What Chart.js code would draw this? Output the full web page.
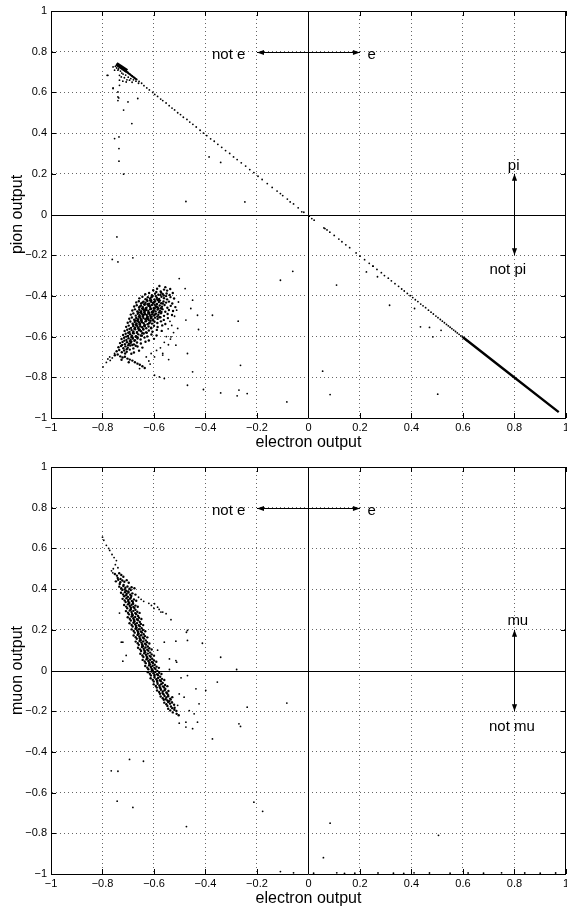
<!DOCTYPE html>
<html><head><meta charset="utf-8">
<script src="https://cdn.jsdelivr.net/npm/chart.js@4.4.1/dist/chart.umd.min.js"></script>
<style>
html,body{margin:0;padding:0;background:#fff;overflow:hidden;width:567px;height:908px}
#wrap{position:relative;width:567px;height:908px;overflow:hidden;background:#fff}
canvas{position:absolute;left:0}
#c1{top:0}
#c2{top:456px}
</style></head><body>
<div id="wrap"><canvas id="c1" width="572" height="454" style="width:572px;height:454px"></canvas><canvas id="c2" width="572" height="452" style="width:572px;height:452px"></canvas></div>
<script>
// ---------- DATA ----------
const tickValues = [-1,-0.8,-0.6,-0.4,-0.2,0,0.2,0.4,0.6,0.8,1];
const xLabel = 'electron output';
const yLabelTop = 'pion output';
const yLabelBottom = 'muon output';

// top panel: pion output vs electron output
const topDiagonal = [[-0.735,0.728],[-0.726,0.722],[-0.718,0.714],[-0.71,0.707],[-0.702,0.699],[-0.694,0.69],[-0.685,0.681],[-0.676,0.672],[-0.667,0.664],[-0.658,0.654],[-0.648,0.645],[-0.639,0.633],[-0.628,0.622],[-0.618,0.612],[-0.605,0.6],[-0.597,0.59],[-0.586,0.58],[-0.574,0.567],[-0.566,0.56],[-0.553,0.548],[-0.541,0.535],[-0.53,0.523],[-0.52,0.514],[-0.508,0.5],[-0.497,0.491],[-0.486,0.478],[-0.472,0.467],[-0.461,0.454],[-0.449,0.443],[-0.436,0.43],[-0.421,0.414],[-0.408,0.4],[-0.395,0.388],[-0.38,0.372],[-0.366,0.36],[-0.352,0.345],[-0.337,0.33],[-0.322,0.314],[-0.306,0.3],[-0.291,0.283],[-0.277,0.27],[-0.261,0.254],[-0.244,0.238],[-0.228,0.221],[-0.212,0.206],[-0.196,0.188],[-0.18,0.172],[-0.16,0.152],[-0.141,0.133],[-0.122,0.115],[-0.1,0.093],[-0.082,0.076],[-0.058,0.052],[-0.04,0.033],[-0.018,0.011],[0.003,-0.008],[0.022,-0.028],[0.06,-0.066],[0.072,-0.076],[0.083,-0.087],[0.1,-0.103],[0.118,-0.121],[0.13,-0.134],[0.145,-0.149],[0.16,-0.163],[0.185,-0.189],[0.2,-0.205],[0.218,-0.222],[0.236,-0.24],[0.25,-0.254],[0.266,-0.27],[0.283,-0.286],[0.295,-0.3],[0.31,-0.313],[0.322,-0.326],[0.336,-0.34],[0.35,-0.353],[0.362,-0.366],[0.372,-0.376],[0.384,-0.388],[0.395,-0.399],[0.405,-0.408],[0.415,-0.419],[0.425,-0.428],[0.436,-0.44],[0.445,-0.449],[0.455,-0.458],[0.466,-0.47],[0.476,-0.48],[0.485,-0.489],[0.495,-0.499],[0.503,-0.507],[0.512,-0.516],[0.52,-0.524],[0.528,-0.532],[0.536,-0.54],[0.543,-0.547],[0.55,-0.554],[0.557,-0.561],[0.564,-0.568],[0.571,-0.575],[0.578,-0.582],[0.585,-0.589],[0.592,-0.596],[0.598,-0.602],[0.605,-0.609],[0.611,-0.615],[0.618,-0.622]];
const topDenseTail = [[0.6,-0.603],[0.75,-0.752],[0.972,-0.971]];
const topWedgeThick = [[-0.746,0.74],[-0.705,0.705]];
const topWedgeThin = [[-0.746,0.74],[-0.668,0.663]];
const topCluster = [
[-0.603,-0.372],[-0.588,-0.365],[-0.574,-0.378],[-0.561,-0.369],[-0.549,-0.374],[-0.537,-0.366],[-0.579,-0.351],[-0.556,-0.357],
[-0.634,-0.392],[-0.619,-0.386],[-0.608,-0.397],[-0.596,-0.389],[-0.583,-0.394],[-0.572,-0.384],[-0.562,-0.398],[-0.551,-0.388],[-0.539,-0.395],[-0.527,-0.386],[-0.591,-0.381],[-0.566,-0.391],
[-0.657,-0.412],[-0.645,-0.404],[-0.633,-0.416],[-0.624,-0.407],[-0.615,-0.413],[-0.606,-0.402],[-0.598,-0.418],[-0.589,-0.409],[-0.58,-0.415],[-0.571,-0.404],[-0.561,-0.411],[-0.549,-0.417],[-0.536,-0.406],[-0.522,-0.413],[-0.611,-0.421],[-0.593,-0.401],[-0.577,-0.423],[-0.553,-0.401],
[-0.669,-0.432],[-0.659,-0.426],[-0.65,-0.437],[-0.641,-0.428],[-0.633,-0.434],[-0.626,-0.425],[-0.619,-0.438],[-0.611,-0.429],[-0.604,-0.435],[-0.596,-0.426],[-0.589,-0.439],[-0.581,-0.43],[-0.572,-0.436],[-0.563,-0.427],[-0.553,-0.433],[-0.542,-0.428],[-0.529,-0.437],[-0.638,-0.441],[-0.616,-0.422],[-0.598,-0.443],[-0.584,-0.421],
[-0.677,-0.452],[-0.667,-0.446],[-0.658,-0.457],[-0.65,-0.448],[-0.643,-0.455],[-0.636,-0.444],[-0.629,-0.458],[-0.622,-0.449],[-0.615,-0.454],[-0.608,-0.445],[-0.601,-0.459],[-0.594,-0.45],[-0.586,-0.456],[-0.578,-0.447],[-0.569,-0.453],[-0.559,-0.445],[-0.548,-0.458],[-0.535,-0.449],[-0.517,-0.455],[-0.646,-0.462],[-0.625,-0.441],[-0.611,-0.463],[-0.589,-0.442],[-0.573,-0.461],
[-0.684,-0.472],[-0.674,-0.466],[-0.665,-0.477],[-0.657,-0.468],[-0.65,-0.475],[-0.643,-0.464],[-0.636,-0.478],[-0.629,-0.469],[-0.622,-0.474],[-0.615,-0.465],[-0.608,-0.479],[-0.601,-0.47],[-0.594,-0.476],[-0.586,-0.467],[-0.577,-0.473],[-0.567,-0.465],[-0.556,-0.478],[-0.542,-0.469],[-0.526,-0.474],[-0.653,-0.482],[-0.632,-0.461],[-0.618,-0.483],[-0.597,-0.462],[-0.581,-0.481],[-0.639,-0.471],
[-0.69,-0.492],[-0.68,-0.486],[-0.671,-0.497],[-0.663,-0.488],[-0.656,-0.495],[-0.649,-0.484],[-0.642,-0.498],[-0.635,-0.489],[-0.628,-0.494],[-0.621,-0.485],[-0.614,-0.499],[-0.607,-0.49],[-0.6,-0.496],[-0.592,-0.487],[-0.583,-0.493],[-0.573,-0.485],[-0.561,-0.498],[-0.547,-0.489],[-0.53,-0.494],[-0.659,-0.502],[-0.638,-0.481],[-0.624,-0.503],[-0.603,-0.482],[-0.587,-0.501],[-0.645,-0.491],[-0.617,-0.492],
[-0.696,-0.512],[-0.686,-0.506],[-0.677,-0.517],[-0.669,-0.508],[-0.662,-0.515],[-0.655,-0.504],[-0.648,-0.518],[-0.641,-0.509],[-0.634,-0.514],[-0.627,-0.505],[-0.62,-0.519],[-0.612,-0.51],[-0.604,-0.516],[-0.596,-0.507],[-0.586,-0.513],[-0.575,-0.505],[-0.562,-0.518],[-0.546,-0.509],[-0.665,-0.522],[-0.644,-0.501],[-0.63,-0.523],[-0.609,-0.502],[-0.652,-0.511],[-0.623,-0.512],
[-0.702,-0.532],[-0.692,-0.526],[-0.683,-0.537],[-0.675,-0.528],[-0.668,-0.535],[-0.661,-0.524],[-0.654,-0.538],[-0.647,-0.529],[-0.64,-0.534],[-0.633,-0.525],[-0.625,-0.539],[-0.617,-0.53],[-0.608,-0.536],[-0.598,-0.527],[-0.587,-0.533],[-0.573,-0.525],[-0.556,-0.538],[-0.67,-0.542],[-0.65,-0.521],[-0.636,-0.543],[-0.613,-0.522],[-0.658,-0.531],
[-0.708,-0.552],[-0.698,-0.546],[-0.689,-0.557],[-0.681,-0.548],[-0.674,-0.555],[-0.667,-0.544],[-0.66,-0.558],[-0.653,-0.549],[-0.646,-0.554],[-0.638,-0.545],[-0.63,-0.559],[-0.621,-0.55],[-0.611,-0.556],[-0.6,-0.547],[-0.586,-0.553],[-0.568,-0.545],[-0.676,-0.562],[-0.656,-0.541],[-0.642,-0.563],[-0.664,-0.551],
[-0.714,-0.572],[-0.704,-0.566],[-0.695,-0.577],[-0.687,-0.568],[-0.68,-0.575],[-0.673,-0.564],[-0.666,-0.578],[-0.658,-0.569],[-0.65,-0.574],[-0.641,-0.565],[-0.631,-0.579],[-0.62,-0.57],[-0.606,-0.576],[-0.589,-0.567],[-0.682,-0.582],[-0.661,-0.561],[-0.645,-0.583],[-0.57,-0.572],
[-0.72,-0.592],[-0.71,-0.586],[-0.701,-0.597],[-0.693,-0.588],[-0.686,-0.595],[-0.678,-0.584],[-0.67,-0.598],[-0.661,-0.589],[-0.651,-0.594],[-0.64,-0.585],[-0.626,-0.599],[-0.61,-0.59],[-0.688,-0.602],[-0.666,-0.581],[-0.59,-0.594],
[-0.726,-0.612],[-0.716,-0.606],[-0.707,-0.617],[-0.699,-0.608],[-0.691,-0.615],[-0.683,-0.604],[-0.674,-0.618],[-0.664,-0.609],[-0.652,-0.614],[-0.637,-0.605],[-0.62,-0.619],[-0.694,-0.622],[-0.671,-0.601],[-0.6,-0.611],
[-0.732,-0.632],[-0.722,-0.626],[-0.713,-0.637],[-0.705,-0.628],[-0.697,-0.635],[-0.688,-0.624],[-0.678,-0.638],[-0.666,-0.629],[-0.651,-0.634],[-0.633,-0.625],[-0.7,-0.642],[-0.676,-0.621],
[-0.738,-0.652],[-0.728,-0.646],[-0.719,-0.657],[-0.711,-0.648],[-0.702,-0.655],[-0.692,-0.644],[-0.68,-0.658],[-0.664,-0.649],[-0.645,-0.654],[-0.706,-0.662],[-0.684,-0.641],
[-0.745,-0.672],[-0.735,-0.666],[-0.725,-0.677],[-0.716,-0.668],[-0.706,-0.675],[-0.694,-0.664],[-0.678,-0.678],[-0.658,-0.669],[-0.712,-0.683],[-0.688,-0.684],
[-0.752,-0.692],[-0.741,-0.688],[-0.731,-0.697],[-0.722,-0.703],[-0.713,-0.699],[-0.703,-0.708],[-0.694,-0.713],[-0.684,-0.718],[-0.674,-0.726],[-0.664,-0.733],[-0.655,-0.738],[-0.645,-0.746],[-0.636,-0.754],[-0.726,-0.714],[-0.698,-0.726],
[-0.628,-0.419],[-0.6,-0.431],[-0.617,-0.447],[-0.591,-0.455],[-0.634,-0.468],[-0.605,-0.476],[-0.622,-0.482],[-0.596,-0.491],[-0.641,-0.494],[-0.612,-0.506],[-0.627,-0.512],[-0.603,-0.521],[-0.648,-0.527],[-0.619,-0.535],[-0.636,-0.549],[-0.611,-0.559],[-0.655,-0.566],[-0.628,-0.581],[-0.647,-0.596],[-0.664,-0.603],[-0.682,-0.61],[-0.69,-0.63],[-0.671,-0.645],[-0.583,-0.462],[-0.571,-0.479],[-0.579,-0.505],[-0.566,-0.437],[-0.587,-0.418],[-0.61,-0.407],[-0.575,-0.395],[-0.66,-0.481],[-0.672,-0.521],[-0.68,-0.541],[-0.695,-0.562],[-0.7,-0.581],[-0.708,-0.6],[-0.715,-0.62],[-0.724,-0.641],[-0.655,-0.452],[-0.645,-0.433]];
const topClusterEdge = [
[-0.77,-0.717],[-0.779,-0.71],[-0.762,-0.705],[-0.798,-0.749],[-0.772,-0.7],[-0.753,-0.683],[-0.785,-0.727],
[-0.538,-0.525],[-0.531,-0.545],[-0.545,-0.562],[-0.524,-0.58],[-0.552,-0.6],[-0.536,-0.612],[-0.56,-0.628],[-0.544,-0.64],[-0.575,-0.655],[-0.59,-0.668],[-0.566,-0.682],[-0.611,-0.683],[-0.598,-0.7],[-0.543,-0.713],[-0.566,-0.691],[-0.515,-0.642],[-0.534,-0.601],[-0.508,-0.56],[-0.512,-0.47],[-0.505,-0.43],[-0.52,-0.5],[-0.598,-0.79],[-0.579,-0.798],[-0.56,-0.806],[-0.656,-0.757],[-0.62,-0.72],[-0.63,-0.7],[-0.615,-0.735]];
const topSparse = [[-0.782,0.684],[-0.759,0.619],[-0.74,0.578],[-0.74,0.56],[-0.701,0.553],[-0.663,0.57],[-0.718,0.513],[-0.686,0.447],[-0.753,0.373],[-0.736,0.381],[-0.736,0.324],[-0.736,0.262],[-0.718,0.198],[-0.476,0.064],[-0.247,0.062],[-0.071,0.062],[-0.386,0.283],[-0.341,0.256],[-0.109,0.103],[-0.026,0.013],[0.013,-0.02],[0.064,-0.069],
[-0.759,0.725],[-0.753,0.709],[-0.74,0.709],[-0.734,0.684],[-0.727,0.676],[-0.734,0.66],[-0.721,0.655],[-0.708,0.651],[-0.695,0.66],[-0.734,0.635],[-0.74,0.602],[-0.737,0.573],[-0.759,0.622],[-0.779,0.684],[-0.72,0.69],[-0.71,0.685],[-0.7,0.675],[-0.69,0.668],[-0.715,0.672],[-0.705,0.662],[-0.725,0.695],[-0.73,0.705],[-0.745,0.72],[-0.75,0.728],[-0.738,0.715],[-0.68,0.662],[-0.67,0.655],[-0.685,0.65],[-0.66,0.645],
[-0.744,-0.11],[-0.762,-0.221],[-0.74,-0.233],[-0.682,-0.213],[-0.502,-0.315],[-0.479,-0.364],[-0.45,-0.421],[-0.457,-0.462],[-0.431,-0.495],[-0.373,-0.495],[-0.427,-0.565],[-0.476,-0.519],[-0.47,-0.683],[-0.45,-0.773],[-0.47,-0.839],[-0.408,-0.86],[-0.341,-0.877],[-0.27,-0.863],[-0.238,-0.88],[-0.277,-0.891],[-0.264,-0.741],[-0.273,-0.524],[-0.109,-0.323],[-0.061,-0.279],[-0.084,-0.921],
[0.109,-0.347],[0.315,-0.446],[0.435,-0.552],[0.47,-0.555],[0.515,-0.569],[0.483,-0.601],[0.412,-0.462],[0.055,-0.77],[0.084,-0.885],[0.502,-0.883],[0.225,-0.282],[0.251,-0.254],[0.268,-0.306]];

// bottom panel: muon output vs electron output
const bottomBand = [
[-0.752,0.474],[-0.744,0.466],[-0.735,0.478],[-0.727,0.469],[-0.719,0.461],[-0.741,0.455],[-0.73,0.45],
[-0.748,0.438],[-0.739,0.446],[-0.731,0.434],[-0.723,0.442],[-0.715,0.436],[-0.706,0.444],[-0.698,0.431],[-0.733,0.425],[-0.718,0.421],
[-0.735,0.412],[-0.727,0.404],[-0.719,0.415],[-0.711,0.407],[-0.703,0.413],[-0.695,0.402],[-0.687,0.409],[-0.676,0.404],[-0.723,0.396],[-0.708,0.392],[-0.69,0.395],
[-0.728,0.382],[-0.72,0.374],[-0.713,0.385],[-0.706,0.377],[-0.699,0.383],[-0.692,0.372],[-0.684,0.379],[-0.672,0.373],[-0.716,0.365],[-0.701,0.362],[-0.688,0.366],
[-0.722,0.352],[-0.714,0.344],[-0.707,0.355],[-0.7,0.347],[-0.693,0.353],[-0.686,0.342],[-0.678,0.349],[-0.669,0.343],[-0.71,0.336],[-0.696,0.333],[-0.682,0.337],
[-0.716,0.322],[-0.708,0.314],[-0.701,0.325],[-0.694,0.317],[-0.687,0.323],[-0.68,0.312],[-0.672,0.319],[-0.663,0.313],[-0.704,0.306],[-0.69,0.303],[-0.676,0.307],[-0.697,0.329],
[-0.709,0.292],[-0.701,0.284],[-0.694,0.295],[-0.687,0.287],[-0.68,0.293],[-0.673,0.282],[-0.665,0.289],[-0.656,0.283],[-0.697,0.276],[-0.683,0.273],[-0.669,0.277],[-0.69,0.299],
[-0.702,0.262],[-0.694,0.254],[-0.687,0.265],[-0.68,0.257],[-0.673,0.263],[-0.666,0.252],[-0.658,0.259],[-0.649,0.253],[-0.69,0.246],[-0.676,0.243],[-0.662,0.247],[-0.683,0.269],
[-0.695,0.232],[-0.687,0.224],[-0.68,0.235],[-0.673,0.227],[-0.666,0.233],[-0.659,0.222],[-0.651,0.229],[-0.642,0.223],[-0.683,0.216],[-0.669,0.213],[-0.655,0.217],[-0.676,0.239],
[-0.687,0.202],[-0.679,0.194],[-0.672,0.205],[-0.665,0.197],[-0.658,0.203],[-0.651,0.192],[-0.643,0.199],[-0.634,0.193],[-0.675,0.186],[-0.661,0.183],[-0.647,0.187],[-0.668,0.209],
[-0.679,0.172],[-0.671,0.164],[-0.664,0.175],[-0.657,0.167],[-0.65,0.173],[-0.643,0.162],[-0.635,0.169],[-0.626,0.163],[-0.667,0.156],[-0.653,0.153],[-0.639,0.157],[-0.66,0.179],
[-0.671,0.142],[-0.663,0.134],[-0.656,0.145],[-0.649,0.137],[-0.642,0.143],[-0.635,0.132],[-0.627,0.139],[-0.618,0.133],[-0.659,0.126],[-0.645,0.123],[-0.631,0.127],[-0.652,0.149],
[-0.662,0.112],[-0.654,0.104],[-0.647,0.115],[-0.64,0.107],[-0.633,0.113],[-0.626,0.102],[-0.618,0.109],[-0.609,0.103],[-0.65,0.096],[-0.636,0.093],[-0.622,0.097],[-0.643,0.119],
[-0.653,0.082],[-0.645,0.074],[-0.638,0.085],[-0.631,0.077],[-0.624,0.083],[-0.617,0.072],[-0.609,0.079],[-0.6,0.073],[-0.641,0.066],[-0.627,0.063],[-0.613,0.067],[-0.634,0.089],
[-0.644,0.052],[-0.636,0.044],[-0.629,0.055],[-0.622,0.047],[-0.615,0.053],[-0.608,0.042],[-0.6,0.049],[-0.591,0.043],[-0.632,0.036],[-0.618,0.033],[-0.604,0.037],[-0.625,0.059],
[-0.634,0.022],[-0.626,0.014],[-0.619,0.025],[-0.612,0.017],[-0.605,0.023],[-0.598,0.012],[-0.59,0.019],[-0.581,0.013],[-0.622,0.006],[-0.608,0.003],[-0.594,0.007],[-0.615,0.029],
[-0.624,-0.008],[-0.616,-0.016],[-0.609,-0.005],[-0.602,-0.013],[-0.595,-0.007],[-0.588,-0.018],[-0.58,-0.011],[-0.571,-0.017],[-0.612,-0.024],[-0.598,-0.027],[-0.584,-0.023],[-0.605,0.001],
[-0.613,-0.038],[-0.605,-0.046],[-0.598,-0.035],[-0.591,-0.043],[-0.584,-0.037],[-0.577,-0.048],[-0.569,-0.041],[-0.56,-0.047],[-0.601,-0.054],[-0.587,-0.057],[-0.573,-0.053],
[-0.601,-0.068],[-0.593,-0.076],[-0.586,-0.065],[-0.579,-0.073],[-0.572,-0.067],[-0.565,-0.078],[-0.557,-0.071],[-0.548,-0.077],[-0.589,-0.084],[-0.575,-0.087],[-0.561,-0.083],
[-0.588,-0.098],[-0.58,-0.106],[-0.573,-0.095],[-0.566,-0.103],[-0.559,-0.097],[-0.552,-0.108],[-0.544,-0.101],[-0.577,-0.114],[-0.563,-0.117],[-0.549,-0.113],
[-0.574,-0.128],[-0.566,-0.136],[-0.559,-0.125],[-0.552,-0.133],[-0.545,-0.127],[-0.537,-0.138],[-0.529,-0.131],[-0.562,-0.144],[-0.548,-0.147],[-0.535,-0.143],
[-0.56,-0.158],[-0.552,-0.166],[-0.545,-0.155],[-0.538,-0.163],[-0.53,-0.157],[-0.522,-0.168],[-0.548,-0.174],[-0.534,-0.177],[-0.52,-0.183],
[-0.545,-0.188],[-0.537,-0.196],[-0.529,-0.185],[-0.521,-0.193],[-0.513,-0.199],[-0.527,-0.206],[-0.512,-0.213],[-0.504,-0.22],
[-0.69,0.31],[-0.672,0.298],[-0.685,0.278],[-0.662,0.268],[-0.678,0.249],[-0.655,0.238],[-0.67,0.219],[-0.648,0.208],[-0.662,0.189],[-0.64,0.178],[-0.655,0.159],[-0.632,0.148],[-0.646,0.129],[-0.624,0.118],[-0.637,0.099],[-0.615,0.088],[-0.628,0.069],[-0.607,0.058],[-0.618,0.039],[-0.597,0.028],[-0.609,0.009],[-0.587,-0.002],[-0.598,-0.021],[-0.576,-0.031],[-0.588,-0.051],[-0.566,-0.061],[-0.578,-0.081],[-0.556,-0.091],[-0.567,-0.111],[-0.545,-0.121],[-0.555,-0.141],[-0.541,-0.151],[-0.7,0.339],[-0.681,0.328],[-0.708,0.37],[-0.69,0.358],[-0.714,0.398],[-0.7,0.389]];
const bottomTrail = [[-0.8,0.655],[-0.795,0.64],[-0.785,0.615],[-0.776,0.6],[-0.772,0.59],[-0.763,0.57],[-0.755,0.555],[-0.746,0.54],[-0.75,0.52],[-0.758,0.5],[-0.74,0.505],[-0.76,0.48],[-0.765,0.49]];
const bottomSparse = [[-0.502,-0.259],[-0.476,-0.278],[-0.45,-0.286],[-0.431,-0.254],[-0.437,-0.09],[-0.425,-0.164],[-0.373,-0.336],[-0.354,-0.057],[-0.27,-0.262],[-0.264,-0.275],[-0.238,-0.18],[-0.084,-0.16],[-0.695,-0.437],[-0.641,-0.446],[-0.766,-0.493],[-0.74,-0.495],[-0.743,-0.642],[-0.682,-0.673],[-0.474,-0.767],[-0.212,-0.647],[-0.178,-0.692],[-0.109,-0.988],[-0.058,-0.994],[0.058,-0.92],[0.084,-0.75],[0.505,-0.81],
[-0.721,0.139],[-0.721,0.046],[-0.598,0.328],[-0.586,0.311],[-0.573,0.287],[-0.553,0.279],[-0.566,0.287],[-0.534,0.25],[-0.47,0.197],[-0.47,0.148],[-0.412,0.134],[-0.341,0.065],[-0.279,0.005],[-0.515,0.144],[-0.56,0.139],[-0.515,0.049],[-0.586,0.1],[-0.512,0.041],[-0.474,0.188],[-0.54,0.057],[-0.54,0.005],[-0.495,-0.036],[-0.47,-0.025],[-0.502,-0.115],[-0.483,-0.131],[-0.53,-0.156],[-0.508,-0.171],[-0.463,-0.197],[-0.476,-0.254],[-0.444,-0.213],[-0.399,-0.098],[-0.727,0.139],[-0.734,0.282],[-0.708,0.074],[-0.62,0.33],[-0.61,0.32],[-0.6,0.305],[-0.58,0.3],[-0.66,0.36],[-0.65,0.35],[-0.64,0.34],
[0.02,-0.996],[0.11,-0.994],[0.18,-0.996],[0.27,-0.995],[0.33,-0.996],[0.41,-0.994],[0.47,-0.995],[0.55,-0.996],[0.62,-0.995],[0.68,-0.996],[0.75,-0.994],[0.84,-0.995],[0.9,-0.996],[0.96,-0.995],[0.14,-0.997],[0.37,-0.997]];

// annotation texts & arrows (data coordinates)
const topNotes = {
  texts: [{text:'not e', x:-0.31, y:0.763},{text:'e', x:0.245, y:0.763},{text:'pi', x:0.797, y:0.221},{text:'not pi', x:0.774, y:-0.293}],
  arrows: [{x1:-0.2,y1:0.8,x2:0.2,y2:0.8},{x1:0.8,y1:0.2,x2:0.8,y2:-0.2}]
};
const bottomNotes = {
  texts: [{text:'not e', x:-0.31, y:0.762},{text:'e', x:0.245, y:0.762},{text:'mu', x:0.813, y:0.226},{text:'not mu', x:0.79, y:-0.295}],
  arrows: [{x1:-0.2,y1:0.8,x2:0.2,y2:0.8},{x1:0.8,y1:0.2,x2:0.8,y2:-0.2}]
};

// ---------- RENDERING ----------
const FONT = '"Liberation Sans", Arial, Helvetica, sans-serif';
Chart.defaults.font.family = FONT;
Chart.defaults.color = '#000';

function fmt(v){ const r = Math.round(v*10)/10; return r < 0 ? '\u2212' + String(-r) : String(r); }
function gridColor(c){ const v = c.tick ? c.tick.value : 1; return (Math.abs(v) < 1e-9 || Math.abs(Math.abs(v)-1) < 1e-9) ? 'rgba(0,0,0,0)' : 'rgba(0,0,0,0.6)'; }

const framePlugin = {
  id: 'frame',
  beforeDatasetsDraw(chart){
    const {ctx, chartArea:a, scales:{x, y}} = chart;
    ctx.save();
    ctx.strokeStyle = '#000'; ctx.lineWidth = 1;
    const px = Math.round(x.getPixelForValue(0)) + 0.5;
    const py = Math.round(y.getPixelForValue(0)) + 0.5;
    const top = Math.round(a.top) + 0.5, right = Math.round(a.right) - 0.5;
    ctx.beginPath();
    ctx.moveTo(px, a.top); ctx.lineTo(px, a.bottom);
    ctx.moveTo(a.left, py); ctx.lineTo(a.right, py);
    ctx.moveTo(a.left, top); ctx.lineTo(a.right, top);
    ctx.moveTo(right, a.top); ctx.lineTo(right, a.bottom);
    x.ticks.forEach(t => { const p = Math.round(x.getPixelForValue(t.value)) + 0.5;
      ctx.moveTo(p, a.top); ctx.lineTo(p, a.top + 5); ctx.moveTo(p, a.bottom); ctx.lineTo(p, a.bottom - 5); });
    y.ticks.forEach(t => { const p = Math.round(y.getPixelForValue(t.value)) + 0.5;
      ctx.moveTo(a.left, p); ctx.lineTo(a.left + 5, p); ctx.moveTo(a.right, p); ctx.lineTo(a.right - 5, p); });
    ctx.stroke();
    ctx.restore();
  }
};

function arrowHead(ctx, x, y, dx, dy){
  const L = 7, W = 2.6, len = Math.hypot(dx, dy), ux = dx/len, uy = dy/len;
  ctx.beginPath();
  ctx.moveTo(x, y);
  ctx.lineTo(x - ux*L - uy*W, y - uy*L + ux*W);
  ctx.lineTo(x - ux*L + uy*W, y - uy*L - ux*W);
  ctx.closePath(); ctx.fill();
}

const notesPlugin = {
  id: 'notes',
  afterDatasetsDraw(chart, args, opts){
    const {ctx, scales:{x, y}} = chart;
    ctx.save();
    ctx.fillStyle = '#000'; ctx.strokeStyle = '#000'; ctx.lineWidth = 1;
    ctx.font = '15px ' + FONT;
    ctx.textAlign = 'center'; ctx.textBaseline = 'alphabetic';
    (opts.texts || []).forEach(t => ctx.fillText(t.text, x.getPixelForValue(t.x), y.getPixelForValue(t.y)));
    (opts.arrows || []).forEach(r => {
      let x1 = x.getPixelForValue(r.x1), y1 = y.getPixelForValue(r.y1), x2 = x.getPixelForValue(r.x2), y2 = y.getPixelForValue(r.y2);
      if (y1 === y2) { y1 = y2 = Math.round(y1) + 0.5; } else { x1 = x2 = Math.round(x1) + 0.5; }
      ctx.beginPath(); ctx.moveTo(x1, y1); ctx.lineTo(x2, y2); ctx.stroke();
      arrowHead(ctx, x2, y2, x2 - x1, y2 - y1);
      arrowHead(ctx, x1, y1, x1 - x2, y1 - y2);
    });
    ctx.restore();
  }
};

function pts(data, r){ return {data, pointRadius:r, pointHoverRadius:r, pointBackgroundColor:'#000', pointBorderWidth:0, showLine:false}; }
function seg(data, w){ return {data, showLine:true, borderColor:'#000', borderWidth:w, pointRadius:0, fill:false}; }

function makeChart(id, yTitle, datasets, notes, xScaleHeight, xTitlePad){
  const axisCommon = {
    type:'linear', min:-1, max:1,
    afterBuildTicks(s){ s.ticks = tickValues.map(v => ({value:v})); },
    grid:{color:gridColor, lineWidth:1, drawTicks:false},
    border:{color:'#000', width:1, dash:[1,3]}
  };
  return new Chart(document.getElementById(id), {
    type:'scatter',
    data:{datasets},
    options:{
      responsive:false, animation:false, events:[],
      layout:{padding:{left:0, right:3, top:11, bottom:0}},
      plugins:{legend:{display:false}, tooltip:{enabled:false}, notes},
      scales:{
        x:Object.assign({}, axisCommon, {
          ticks:{callback:fmt, padding:3, color:'#000', font:{family:FONT, size:11}, maxRotation:0, autoSkip:false},
          title:{display:true, text:xLabel, color:'#000', font:{family:FONT, size:16}, padding:{top:0, bottom:xTitlePad}},
          afterFit(s){ s.height = xScaleHeight; }
        }),
        y:Object.assign({}, axisCommon, {
          ticks:{callback:fmt, padding:4, color:'#000', font:{family:FONT, size:11}, autoSkip:false},
          title:{display:true, text:yTitle, color:'#000', font:{family:FONT, size:16}, padding:{top:8, bottom:0}},
          afterFit(s){ s.width = 51; }
        })
      }
    },
    plugins:[framePlugin, notesPlugin]
  });
}

makeChart('c1', yLabelTop, [
  pts(topCluster, 1.2), pts(topClusterEdge, 0.9), pts(topDiagonal, 0.9), pts(topSparse, 0.9),
  seg(topDenseTail, 2.4), seg(topWedgeThick, 4), seg(topWedgeThin, 2)
], topNotes, 36, 1.5);

makeChart('c2', yLabelBottom, [
  pts(bottomBand, 1.2), pts(bottomTrail, 0.9), pts(bottomSparse, 0.9)
], bottomNotes, 34, 0);
</script>
</body></html>
